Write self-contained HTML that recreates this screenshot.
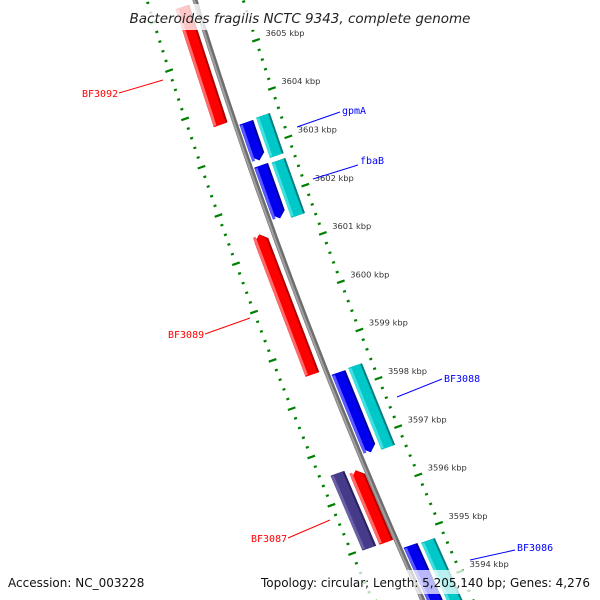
<!DOCTYPE html>
<html><head><meta charset="utf-8"><style>
html,body{margin:0;padding:0;background:#fff;width:600px;height:600px;overflow:hidden;}
svg{display:block;}
</style></head><body>
<svg id="map" width="600" height="600" viewBox="0 0 600 600" xmlns="http://www.w3.org/2000/svg">
<g id="ticks"></g>
<g id="backbone"></g>
<g id="features"></g>
<g id="labels"></g>
<rect x="0" y="4" width="600" height="26" fill="#fff" fill-opacity="0.78"/>
<text x="300" y="23" text-anchor="middle" font-family="DejaVu Sans, Liberation Sans, sans-serif" font-style="italic" font-size="13.5" fill="#222">Bacteroides fragilis NCTC 9343, complete genome</text>
<rect x="0" y="570" width="600" height="24" fill="#fff" fill-opacity="0.72"/>
<text x="8" y="587" font-family="DejaVu Sans, Liberation Sans, sans-serif" font-size="12" fill="#111">Accession: NC_003228</text>
<text x="590" y="587" text-anchor="end" textLength="329" font-family="DejaVu Sans, Liberation Sans, sans-serif" font-size="12" fill="#111">Topology: circular; Length: 5,205,140 bp; Genes: 4,276</text>
</svg>
<script>
// data (kbp)
const geneNames = ["BF3092","BF3089","BF3087","BF3087b","gpmA","gpmAc","fbaB","fbaBc","BF3088","BF3088c","BF3086","BF3086c"];
const geneStarts = [3606.1,3601.39,3596.48,3596.54,3603.54,3603.56,3602.65,3602.63,3598.36,3598.38,3594.78,3594.76];
const geneEnds   = [3603.66,3598.49,3594.99,3594.99,3602.75,3602.73,3601.55,3601.49,3596.71,3596.69,3593.2,3593.1];
const geneTracks = [-14,-14,-10,-28,11,29,11,29,11,29,11,29];
const geneColors = ["red","red","red","purple","blue","cyan","blue","cyan","blue","cyan","blue","cyan"];
const geneArrows = ["none","top","top","none","bottom","none","bottom","none","bottom","none","none","none"];
const tickLabels = [3605,3604,3603,3602,3601,3600,3599,3598,3597,3596,3595,3594];

const NS="http://www.w3.org/2000/svg";
const PX_PER_KBP=48.3;
function yb(p){return 152+(3603-p)*PX_PER_KBP;}
function xb(y){return 195+0.311*y+0.0001143*y*y;}
function pt(y,n){return [xb(y)+n*0.944, y-n*0.33];}
function mk(tag,attrs,parent){const e=document.createElementNS(NS,tag);for(const k in attrs)e.setAttribute(k,attrs[k]);parent.appendChild(e);return e;}

// backbone
const bb=document.getElementById('backbone');
let d="";for(let y=-20;y<=620;y+=10){const q=pt(y,0);d+=(d?"L":"M")+q[0].toFixed(1)+","+q[1].toFixed(1);}
const bl1=mk('path',{d:d,stroke:"#6e6e6e","stroke-width":5,fill:"none"},bb);


const bl2=mk('path',{d:d,stroke:"#a0a0a0","stroke-width":2,fill:"none",transform:"translate(-1,0)"},bb);



// ticks
const tg=document.getElementById('ticks');
for(const ring of [46,-46]){
  for(let k=0;k<=78;k++){
    const p=3607-k*0.2;const y=yb(p);
    const major=(k%5===0);
    const len=major?8:3;
    const a=pt(y,ring-len/2), b=pt(y,ring+len/2);
    const t=mk('line',{x1:a[0],y1:a[1],x2:b[0],y2:b[1],stroke:"#008000","stroke-width":major?2.2:2.2},tg);
    
    
  }
}
tickLabels.forEach(v=>{
  const q=pt(yb(v),56);
  const t=mk('text',{x:q[0],y:q[1]-1,"font-family":"DejaVu Sans, Liberation Sans, sans-serif","font-size":"8.3",fill:"#333"},tg);
  t.textContent=v+" kbp";
  
  
});

// features
const pal={red:["#ff6b6b","#ff0000","#b00000"],blue:["#5a5aff","#0000ee","#00009a"],cyan:["#40e0e0","#00c8c8","#008080"],purple:["#6a60a8","#463b88","#2a2060"]};
const fg=document.getElementById('features');
function poly(y1,y2,n1,n2,arrow,nc){
  const pts=[];const tip=6;
  if(arrow==="top"){pts.push(pt(y1+tip,n1),pt(y1,nc),pt(y1+tip,n2));}else{pts.push(pt(y1,n1),pt(y1,n2));}
  if(arrow==="bottom"){pts.push(pt(y2-tip,n2),pt(y2,nc),pt(y2-tip,n1));}else{pts.push(pt(y2,n2),pt(y2,n1));}
  return pts.map(q=>q[0].toFixed(1)+","+q[1].toFixed(1)).join(" ");
}
geneNames.forEach((g,i)=>{
  const y1=yb(geneStarts[i]), y2=yb(geneEnds[i]), n=geneTracks[i], w=14.5, c=pal[geneColors[i]];
  const grp=mk('g',{},fg);
  
  
  mk('polygon',{points:poly(y1,y2,n-w/2,n+w/2,geneArrows[i],n),fill:c[2]},grp);
  mk('polygon',{points:poly(y1,y2,n-w/2,n+w/2-2,geneArrows[i],n),fill:c[1]},grp);
  mk('polygon',{points:poly(y1+1,y2-1,n-w/2,n-w/2+3,"none",n),fill:c[0]},grp);
});

// labels
const lg=document.getElementById('labels');
const labelTexts=["BF3092","BF3089","BF3087","gpmA","fbaB","BF3088","BF3086"];
const labelColors=["#ff0000","#ff0000","#ff0000","#0000ff","#0000ff","#0000ff","#0000ff"];
const labelX=[82,168,251,342,360,444,517];
const labelY=[97,338,542,114,164,382,551];
const lineCoords=[[119,93,163,80],[205,334,250,318],[288,538,330,520],[297,127,340,112],[313,179,358,165],[397,397,442,379],[470,560,515,550]];
labelTexts.forEach((s,i)=>{
  const l=lineCoords[i];
  const ln=mk('line',{x1:l[0],y1:l[1],x2:l[2],y2:l[3],stroke:labelColors[i],"stroke-width":1},lg);
  
  
  const t=mk('text',{x:labelX[i],y:labelY[i],"font-family":"DejaVu Sans Mono, Liberation Mono, monospace","font-size":"10",fill:labelColors[i]},lg);
  t.textContent=s;
  
  
});
</script>
</body></html>
